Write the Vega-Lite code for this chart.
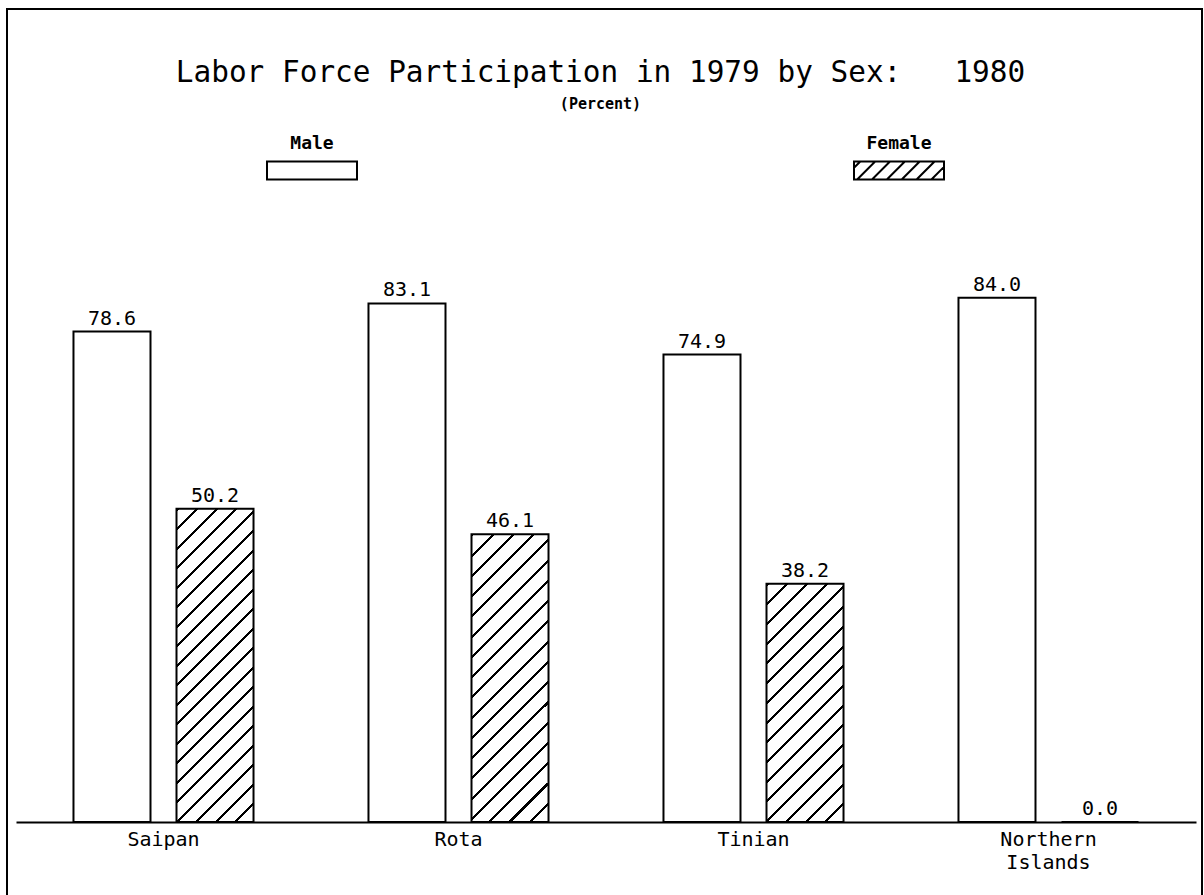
{
  "$schema": "https://vega.github.io/schema/vega-lite/v6.json",
  "usermeta": {"embedOptions": {"actions": false}},
  "width": 1195,
  "height": 887,
  "autosize": "none",
  "padding": {"left": 7, "top": 9, "right": 2, "bottom": 0},
  "background": "white",
  "config": {
    "view": {"stroke": "black", "strokeWidth": 2},
    "font": "DejaVu Sans Mono"
  },
  "title": {
    "text": "Labor Force Participation in 1979 by Sex:\u00a0\u00a0\u00a01980",
    "subtitle": "(Percent)",
    "anchor": "middle",
    "frame": "group",
    "offset": -104,
    "dx": -4,
    "font": "DejaVu Sans Mono",
    "fontSize": 29.4,
    "fontWeight": "normal",
    "color": "black",
    "subtitleFont": "DejaVu Sans Mono",
    "subtitleFontSize": 15,
    "subtitleFontWeight": "bold",
    "subtitleColor": "black",
    "subtitlePadding": 9
  },
  "data": {
    "values": [
      {"island": "Saipan", "sex": "Male", "value": 78.6},
      {"island": "Saipan", "sex": "Female", "value": 50.2},
      {"island": "Rota", "sex": "Male", "value": 83.1},
      {"island": "Rota", "sex": "Female", "value": 46.1},
      {"island": "Tinian", "sex": "Male", "value": 74.9},
      {"island": "Tinian", "sex": "Female", "value": 38.2},
      {"island": "Northern Islands", "sex": "Male", "value": 84.0},
      {"island": "Northern Islands", "sex": "Female", "value": 0.0}
    ]
  },
  "encoding": {
    "x": {
      "field": "island",
      "type": "nominal",
      "sort": ["Saipan", "Rota", "Tinian", "Northern Islands"],
      "scale": {"domain": ["Saipan", "Rota", "Tinian", "Northern Islands"], "range": [9, 1189], "paddingInner": 0, "paddingOuter": 0},
      "axis": {
        "title": null,
        "orient": "bottom",
        "offset": -74,
        "domain": true,
        "domainColor": "black",
        "domainWidth": 2,
        "ticks": false,
        "tickSize": 0,
        "grid": false,
        "labelAngle": 0,
        "labelFont": "DejaVu Sans Mono",
        "labelFontSize": 20,
        "labelColor": "black",
        "labelPadding": 7,
        "labelBaseline": "top",
        "labelLineHeight": 23,
        "labelExpr": "split(datum.label, ' ')"
      }
    },
    "xOffset": {
      "field": "sex",
      "type": "nominal",
      "scale": {"domain": ["Male", "Female"], "paddingInner": 0.2524, "paddingOuter": 0.558}
    },
    "y": {
      "field": "value",
      "type": "quantitative",
      "scale": {"domain": [0, 100], "range": [813, 189], "nice": false, "zero": true},
      "axis": null
    }
  },
  "layer": [
    {
      "transform": [{"filter": "datum.sex === 'Male'"}],
      "mark": {"type": "bar", "fill": "white", "stroke": "black", "strokeWidth": 2}
    },
    {
      "transform": [{"filter": "datum.sex === 'Female' && datum.island === 'Saipan'"}],
      "mark": {
        "type": "bar", "stroke": "black", "strokeWidth": 2,
        "fill": {
          "gradient": "linear", "x1": 0, "y1": 0, "x2": 0.2888, "y2": 1.1748,
          "stops": [
            {"offset": 0, "color": "#000"}, {"offset": 0.0075, "color": "#000"}, {"offset": 0.0075, "color": "#fff"}, {"offset": 0.05, "color": "#fff"},
            {"offset": 0.05, "color": "#000"}, {"offset": 0.0575, "color": "#000"}, {"offset": 0.0575, "color": "#fff"}, {"offset": 0.1, "color": "#fff"},
            {"offset": 0.1, "color": "#000"}, {"offset": 0.1075, "color": "#000"}, {"offset": 0.1075, "color": "#fff"}, {"offset": 0.15, "color": "#fff"},
            {"offset": 0.15, "color": "#000"}, {"offset": 0.1575, "color": "#000"}, {"offset": 0.1575, "color": "#fff"}, {"offset": 0.2, "color": "#fff"},
            {"offset": 0.2, "color": "#000"}, {"offset": 0.2075, "color": "#000"}, {"offset": 0.2075, "color": "#fff"}, {"offset": 0.25, "color": "#fff"},
            {"offset": 0.25, "color": "#000"}, {"offset": 0.2575, "color": "#000"}, {"offset": 0.2575, "color": "#fff"}, {"offset": 0.3, "color": "#fff"},
            {"offset": 0.3, "color": "#000"}, {"offset": 0.3075, "color": "#000"}, {"offset": 0.3075, "color": "#fff"}, {"offset": 0.35, "color": "#fff"},
            {"offset": 0.35, "color": "#000"}, {"offset": 0.3575, "color": "#000"}, {"offset": 0.3575, "color": "#fff"}, {"offset": 0.4, "color": "#fff"},
            {"offset": 0.4, "color": "#000"}, {"offset": 0.4075, "color": "#000"}, {"offset": 0.4075, "color": "#fff"}, {"offset": 0.45, "color": "#fff"},
            {"offset": 0.45, "color": "#000"}, {"offset": 0.4575, "color": "#000"}, {"offset": 0.4575, "color": "#fff"}, {"offset": 0.5, "color": "#fff"},
            {"offset": 0.5, "color": "#000"}, {"offset": 0.5075, "color": "#000"}, {"offset": 0.5075, "color": "#fff"}, {"offset": 0.55, "color": "#fff"},
            {"offset": 0.55, "color": "#000"}, {"offset": 0.5575, "color": "#000"}, {"offset": 0.5575, "color": "#fff"}, {"offset": 0.6, "color": "#fff"},
            {"offset": 0.6, "color": "#000"}, {"offset": 0.6075, "color": "#000"}, {"offset": 0.6075, "color": "#fff"}, {"offset": 0.65, "color": "#fff"},
            {"offset": 0.65, "color": "#000"}, {"offset": 0.6575, "color": "#000"}, {"offset": 0.6575, "color": "#fff"}, {"offset": 0.7, "color": "#fff"},
            {"offset": 0.7, "color": "#000"}, {"offset": 0.7075, "color": "#000"}, {"offset": 0.7075, "color": "#fff"}, {"offset": 0.75, "color": "#fff"},
            {"offset": 0.75, "color": "#000"}, {"offset": 0.7575, "color": "#000"}, {"offset": 0.7575, "color": "#fff"}, {"offset": 0.8, "color": "#fff"},
            {"offset": 0.8, "color": "#000"}, {"offset": 0.8075, "color": "#000"}, {"offset": 0.8075, "color": "#fff"}, {"offset": 0.85, "color": "#fff"},
            {"offset": 0.85, "color": "#000"}, {"offset": 0.8575, "color": "#000"}, {"offset": 0.8575, "color": "#fff"}, {"offset": 0.9, "color": "#fff"},
            {"offset": 0.9, "color": "#000"}, {"offset": 0.9075, "color": "#000"}, {"offset": 0.9075, "color": "#fff"}, {"offset": 0.95, "color": "#fff"},
            {"offset": 0.95, "color": "#000"}, {"offset": 0.9575, "color": "#000"}, {"offset": 0.9575, "color": "#fff"}, {"offset": 1, "color": "#fff"}
          ]
        }
      }
    },
    {
      "transform": [{"filter": "datum.sex === 'Female' && datum.island === 'Rota'"}],
      "mark": {
        "type": "bar", "stroke": "black", "strokeWidth": 2,
        "fill": {
          "gradient": "linear", "x1": 0, "y1": 0, "x2": 0.3166, "y2": 1.1829,
          "stops": [
            {"offset": 0, "color": "#000"}, {"offset": 0.0083, "color": "#000"}, {"offset": 0.0083, "color": "#fff"}, {"offset": 0.0556, "color": "#fff"},
            {"offset": 0.0556, "color": "#000"}, {"offset": 0.0639, "color": "#000"}, {"offset": 0.0639, "color": "#fff"}, {"offset": 0.1111, "color": "#fff"},
            {"offset": 0.1111, "color": "#000"}, {"offset": 0.1194, "color": "#000"}, {"offset": 0.1194, "color": "#fff"}, {"offset": 0.1667, "color": "#fff"},
            {"offset": 0.1667, "color": "#000"}, {"offset": 0.175, "color": "#000"}, {"offset": 0.175, "color": "#fff"}, {"offset": 0.2222, "color": "#fff"},
            {"offset": 0.2222, "color": "#000"}, {"offset": 0.2306, "color": "#000"}, {"offset": 0.2306, "color": "#fff"}, {"offset": 0.2778, "color": "#fff"},
            {"offset": 0.2778, "color": "#000"}, {"offset": 0.2861, "color": "#000"}, {"offset": 0.2861, "color": "#fff"}, {"offset": 0.3333, "color": "#fff"},
            {"offset": 0.3333, "color": "#000"}, {"offset": 0.3417, "color": "#000"}, {"offset": 0.3417, "color": "#fff"}, {"offset": 0.3889, "color": "#fff"},
            {"offset": 0.3889, "color": "#000"}, {"offset": 0.3972, "color": "#000"}, {"offset": 0.3972, "color": "#fff"}, {"offset": 0.4444, "color": "#fff"},
            {"offset": 0.4444, "color": "#000"}, {"offset": 0.4528, "color": "#000"}, {"offset": 0.4528, "color": "#fff"}, {"offset": 0.5, "color": "#fff"},
            {"offset": 0.5, "color": "#000"}, {"offset": 0.5083, "color": "#000"}, {"offset": 0.5083, "color": "#fff"}, {"offset": 0.5556, "color": "#fff"},
            {"offset": 0.5556, "color": "#000"}, {"offset": 0.5639, "color": "#000"}, {"offset": 0.5639, "color": "#fff"}, {"offset": 0.6111, "color": "#fff"},
            {"offset": 0.6111, "color": "#000"}, {"offset": 0.6194, "color": "#000"}, {"offset": 0.6194, "color": "#fff"}, {"offset": 0.6667, "color": "#fff"},
            {"offset": 0.6667, "color": "#000"}, {"offset": 0.675, "color": "#000"}, {"offset": 0.675, "color": "#fff"}, {"offset": 0.7222, "color": "#fff"},
            {"offset": 0.7222, "color": "#000"}, {"offset": 0.7306, "color": "#000"}, {"offset": 0.7306, "color": "#fff"}, {"offset": 0.7778, "color": "#fff"},
            {"offset": 0.7778, "color": "#000"}, {"offset": 0.7861, "color": "#000"}, {"offset": 0.7861, "color": "#fff"}, {"offset": 0.8333, "color": "#fff"},
            {"offset": 0.8333, "color": "#000"}, {"offset": 0.8417, "color": "#000"}, {"offset": 0.8417, "color": "#fff"}, {"offset": 0.8889, "color": "#fff"},
            {"offset": 0.8889, "color": "#000"}, {"offset": 0.8972, "color": "#000"}, {"offset": 0.8972, "color": "#fff"}, {"offset": 0.9444, "color": "#fff"},
            {"offset": 0.9444, "color": "#000"}, {"offset": 0.9528, "color": "#000"}, {"offset": 0.9528, "color": "#fff"}, {"offset": 1, "color": "#fff"}
          ]
        }
      }
    },
    {
      "transform": [{"filter": "datum.sex === 'Female' && datum.island === 'Tinian'"}],
      "mark": {
        "type": "bar", "stroke": "black", "strokeWidth": 2,
        "fill": {
          "gradient": "linear", "x1": 0, "y1": 0, "x2": 0.387, "y2": 1.198,
          "stops": [
            {"offset": 0, "color": "#000"}, {"offset": 0.0094, "color": "#000"}, {"offset": 0.0094, "color": "#fff"}, {"offset": 0.0625, "color": "#fff"},
            {"offset": 0.0625, "color": "#000"}, {"offset": 0.0719, "color": "#000"}, {"offset": 0.0719, "color": "#fff"}, {"offset": 0.125, "color": "#fff"},
            {"offset": 0.125, "color": "#000"}, {"offset": 0.1344, "color": "#000"}, {"offset": 0.1344, "color": "#fff"}, {"offset": 0.1875, "color": "#fff"},
            {"offset": 0.1875, "color": "#000"}, {"offset": 0.1969, "color": "#000"}, {"offset": 0.1969, "color": "#fff"}, {"offset": 0.25, "color": "#fff"},
            {"offset": 0.25, "color": "#000"}, {"offset": 0.2594, "color": "#000"}, {"offset": 0.2594, "color": "#fff"}, {"offset": 0.3125, "color": "#fff"},
            {"offset": 0.3125, "color": "#000"}, {"offset": 0.3219, "color": "#000"}, {"offset": 0.3219, "color": "#fff"}, {"offset": 0.375, "color": "#fff"},
            {"offset": 0.375, "color": "#000"}, {"offset": 0.3844, "color": "#000"}, {"offset": 0.3844, "color": "#fff"}, {"offset": 0.4375, "color": "#fff"},
            {"offset": 0.4375, "color": "#000"}, {"offset": 0.4469, "color": "#000"}, {"offset": 0.4469, "color": "#fff"}, {"offset": 0.5, "color": "#fff"},
            {"offset": 0.5, "color": "#000"}, {"offset": 0.5094, "color": "#000"}, {"offset": 0.5094, "color": "#fff"}, {"offset": 0.5625, "color": "#fff"},
            {"offset": 0.5625, "color": "#000"}, {"offset": 0.5719, "color": "#000"}, {"offset": 0.5719, "color": "#fff"}, {"offset": 0.625, "color": "#fff"},
            {"offset": 0.625, "color": "#000"}, {"offset": 0.6344, "color": "#000"}, {"offset": 0.6344, "color": "#fff"}, {"offset": 0.6875, "color": "#fff"},
            {"offset": 0.6875, "color": "#000"}, {"offset": 0.6969, "color": "#000"}, {"offset": 0.6969, "color": "#fff"}, {"offset": 0.75, "color": "#fff"},
            {"offset": 0.75, "color": "#000"}, {"offset": 0.7594, "color": "#000"}, {"offset": 0.7594, "color": "#fff"}, {"offset": 0.8125, "color": "#fff"},
            {"offset": 0.8125, "color": "#000"}, {"offset": 0.8219, "color": "#000"}, {"offset": 0.8219, "color": "#fff"}, {"offset": 0.875, "color": "#fff"},
            {"offset": 0.875, "color": "#000"}, {"offset": 0.8844, "color": "#000"}, {"offset": 0.8844, "color": "#fff"}, {"offset": 0.9375, "color": "#fff"},
            {"offset": 0.9375, "color": "#000"}, {"offset": 0.9469, "color": "#000"}, {"offset": 0.9469, "color": "#fff"}, {"offset": 1, "color": "#fff"}
          ]
        }
      }
    },
    {
      "transform": [{"filter": "datum.sex === 'Female' && datum.island === 'Northern Islands'"}],
      "mark": {"type": "bar", "fill": "white", "stroke": "black", "strokeWidth": 2}
    },
    {
      "mark": {"type": "point", "filled": false, "stroke": "black", "strokeWidth": 2, "size": 0, "opacity": 1},
      "encoding": {
        "shape": {
          "field": "sex",
          "type": "nominal",
          "scale": {
            "domain": ["Male", "Female"],
            "range": [
              "M-1,0.378H1V0.778H-1Z",
              "M-1,0.378H1V0.778H-1ZM-1,0.518L-0.86,0.378M-0.93,0.778L-0.53,0.378M-0.6,0.778L-0.2,0.378M-0.27,0.778L0.13,0.378M0.06,0.778L0.46,0.378M0.39,0.778L0.79,0.378M0.72,0.778L1,0.498"
            ]
          },
          "legend": {
            "title": null,
            "orient": "none",
            "legendX": 259,
            "legendY": 89,
            "direction": "horizontal",
            "padding": 0,
            "symbolSize": 8100,
            "symbolStrokeWidth": 2,
            "symbolStrokeColor": "black",
            "symbolFillColor": "transparent",
            "symbolOpacity": 1,
            "labelFont": "DejaVu Sans Mono",
            "labelFontSize": 18,
            "labelFontWeight": "bold",
            "labelColor": "black",
            "labelAlign": "center",
            "labelBaseline": "middle",
            "labelOffset": -46,
            "columnPadding": 489
          }
        }
      }
    },
    {
      "mark": {"type": "text", "font": "DejaVu Sans Mono", "fontSize": 20, "baseline": "alphabetic", "align": "center", "dy": -7, "fill": "black"},
      "encoding": {
        "text": {"field": "value", "type": "quantitative", "format": ".1f"}
      }
    }
  ]
}
